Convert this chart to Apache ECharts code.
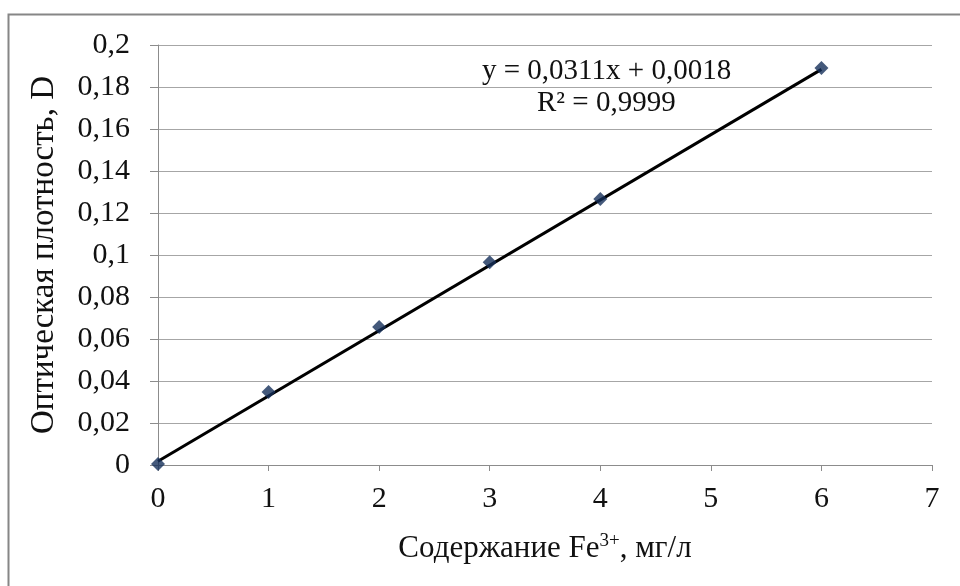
<!DOCTYPE html>
<html>
<head>
<meta charset="utf-8">
<script src="https://cdn.jsdelivr.net/npm/echarts@6/dist/echarts.min.js"></script>
<style>html,body{margin:0;padding:0;background:#fff;}#c{width:960px;height:586px;}</style>
</head>
<body>
<div id="c"></div>
<script>
const concentrations = [0, 1, 2, 3, 4, 6];
const densities = [0.0005, 0.0348, 0.0657, 0.0965, 0.1267, 0.189];
const trendX = [0, 6];
const trendY = [0.0018, 0.1884];
const equationText = 'y = 0,0311x + 0,0018';
const r2Text = 'R² = 0,9999';
const xTitle = 'Содержание Fe';
const xTitleSup = '3+';
const xTitleEnd = ', мг/л';
const yTitle = 'Оптическая плотность, D';

const FONT = '"Liberation Serif", "DejaVu Serif", serif';
function fmt(v){ if (v === 0) return '0'; return String(+v.toFixed(2)).replace('.', ','); }

const chart = echarts.init(document.getElementById('c'));
chart.setOption({
  backgroundColor: '#fff',
  animation: false,
  grid: { left: 158, right: 28, top: 45, bottom: 121, containLabel: false },
  xAxis: {
    type: 'value', min: 0, max: 7, interval: 1,
    name: '{a|' + xTitle + '}{s|' + xTitleSup + '}{a|' + xTitleEnd + '}',
    nameLocation: 'middle', nameGap: 67,
    nameTextStyle: { rich: {
      a: { fontFamily: FONT, fontSize: 31, color: '#111' },
      s: { fontFamily: FONT, fontSize: 19, color: '#111', verticalAlign: 'top', padding: [0,0,14,0] }
    } },
    axisLine: { show: true, lineStyle: { color: '#8c8c8c', width: 1 } },
    axisTick: { show: true, length: 6, lineStyle: { color: '#8c8c8c' } },
    axisLabel: { margin: 19, fontFamily: FONT, fontSize: 30, color: '#111', formatter: fmt },
    splitLine: { show: false }
  },
  yAxis: {
    type: 'value', min: 0, max: 0.2, interval: 0.02,
    name: yTitle, nameLocation: 'middle', nameGap: 97, nameRotate: 90,
    nameTextStyle: { fontFamily: FONT, fontSize: 33, color: '#111' },
    axisLine: { show: true, lineStyle: { color: '#8c8c8c', width: 1 } },
    axisTick: { show: true, length: 8, lineStyle: { color: '#8c8c8c' } },
    axisLabel: { margin: 28, fontFamily: FONT, fontSize: 30, color: '#111', formatter: fmt },
    splitLine: { show: true, lineStyle: { color: '#a6a6a6', width: 1 } }
  },
  series: [
    {
      type: 'line', data: trendX.map((x, i) => [x, trendY[i]]),
      symbol: 'none', lineStyle: { color: '#000', width: 3 }, z: 2
    },
    {
      type: 'scatter', data: concentrations.map((x, i) => [x, densities[i]]),
      symbol: 'diamond', symbolSize: 14, itemStyle: { color: '#15305a' }, z: 3
    }
  ],
  graphic: [
    { type: 'rect', shape: { x: 8.5, y: 14.5, width: 1000, height: 1000 },
      style: { fill: 'none', stroke: '#868686', lineWidth: 2 }, silent: true, z: -1 },
    { type: 'text', x: 482, y: 71, style: { text: equationText, font: '29px ' + FONT, fill: '#111', verticalAlign: 'middle' } },
    { type: 'text', x: 537, y: 103, style: { text: r2Text, font: '29px ' + FONT, fill: '#111', verticalAlign: 'middle' } }
  ]
});
</script>
</body>
</html>
